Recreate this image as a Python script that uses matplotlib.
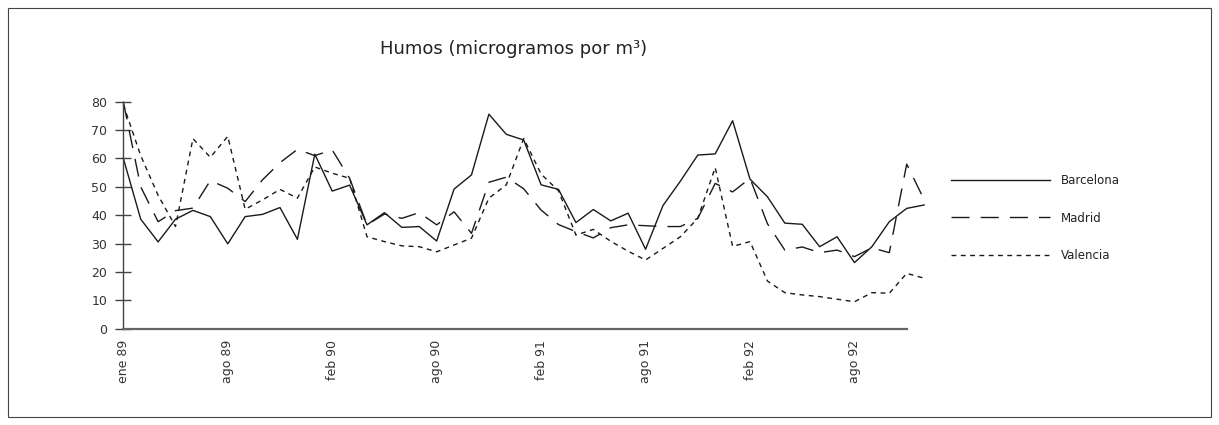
import matplotlib
matplotlib.use("Agg")
import matplotlib.pyplot as plt
from matplotlib.patches import Rectangle
import numpy as np

# ---- data (monthly series, ene 89 .. dic 92) ----
barcelona = [60.1, 38.6, 30.6, 38.6, 41.7, 39.5, 29.9, 39.5, 40.3, 42.7,
             31.5, 61.5, 48.5, 50.6, 36.6, 40.9, 35.7, 36.0, 30.9, 49.2,
             54.2, 75.6, 68.5, 66.5, 50.7, 49.1, 37.4, 42.0, 38.0, 40.7,
             28.0, 43.4, 52.0, 61.2, 61.6, 73.3, 52.7, 46.5, 37.2, 36.8,
             28.9, 32.4, 23.3, 28.9, 37.7, 42.4, 43.6]
madrid = [80.0, 50.0, 37.7, 41.6, 42.5, 52.2, 49.5, 44.8, 52.5, 58.5,
          63.2, 61.0, 63.0, 53.0, 36.6, 40.4, 38.9, 40.9, 36.6, 41.2,
          33.6, 51.6, 53.4, 49.3, 41.8, 36.7, 34.2, 32.0, 35.6, 36.6,
          36.3, 36.0, 36.0, 38.9, 51.2, 48.2, 53.0, 37.0, 27.7, 28.8,
          26.8, 27.7, 25.4, 28.5, 26.8, 58.0, 45.5]
valencia = [79.0, 61.0, 47.0, 36.0, 67.0, 60.4, 67.8, 42.1, 45.4, 49.1,
            46.0, 57.0, 54.8, 53.0, 32.4, 30.7, 29.2, 28.9, 27.1, 29.5,
            31.9, 46.0, 50.7, 67.0, 54.5, 48.6, 33.0, 35.0, 30.8, 27.3,
            24.2, 28.3, 32.4, 38.9, 56.8, 29.0, 30.7, 16.8, 12.7, 11.9,
            11.3, 10.4, 9.5, 12.7, 12.5, 19.5, 17.8]
series_names = ["Barcelona", "Madrid", "Valencia"]
tick_labels = ["ene 89", "ago 89", "feb 90", "ago 90",
               "feb 91", "ago 91", "feb 92", "ago 92"]
tick_step = 6
title = "Humos (microgramos por m³)"

W, H = 1219, 425
plt.rcParams['font.family'] = ['DejaVu Sans']
fig = plt.figure(figsize=(W / 100, H / 100), dpi=100)

# outer frame
fig.patches.append(Rectangle((8 / W, 8 / H), (W - 16) / W, (H - 16) / H,
                             transform=fig.transFigure, fill=False,
                             edgecolor="#444444", linewidth=0.8))

left, right = 123.3, 906.7
top, bottom = 101.7, 328.7
ax = fig.add_axes([left / W, (H - bottom) / H, (right - left) / W, (bottom - top) / H])

x = np.arange(len(barcelona))
lc = "#1a1a1a"
ax.plot(x, barcelona, color=lc, lw=1.0, ls="-", label=series_names[0], clip_on=False)
ax.plot(x, madrid, color=lc, lw=1.0, dashes=(13, 8), label=series_names[1], clip_on=False)
ax.plot(x, valencia, color=lc, lw=1.0, dashes=(3.5, 3.2), label=series_names[2], clip_on=False)

ax.set_xlim(0, len(barcelona) - 2)
ax.set_ylim(0, 80)
ax.set_yticks(np.arange(0, 81, 10))
ax.set_xticks(np.arange(0, len(tick_labels) * tick_step, tick_step))
ax.set_xticklabels(tick_labels, rotation=90, fontsize=9, color="#333333")
ax.tick_params(axis="x", length=0, pad=8)
ax.set_xticks([0], minor=True)
ax.tick_params(axis="x", which="minor", length=6, width=1.0, color="#444444", direction="out")
ax.tick_params(axis="y", direction="inout", length=11, width=1.0, color="#444444",
               labelsize=9, labelcolor="#333333", pad=6)

for s in ["top", "right"]:
    ax.spines[s].set_visible(False)
ax.spines["left"].set_color("#444444")
ax.spines["left"].set_linewidth(1.0)
ax.spines["bottom"].set_color("#666666")
ax.spines["bottom"].set_linewidth(1.6)

fig.text(514 / W, 1 - 49 / H, title, ha="center", va="center", fontsize=13, color="#222222")

leg = ax.legend(loc="center left", bbox_to_anchor=(951 / W, 1 - 218 / H),
                bbox_transform=fig.transFigure, frameon=False, fontsize=8.5,
                handlelength=8.4, handletextpad=0.9, labelspacing=2.05,
                borderpad=0, borderaxespad=0)
for t in leg.get_texts():
    t.set_color("#222222")

fig.savefig("out.png", dpi=100)
